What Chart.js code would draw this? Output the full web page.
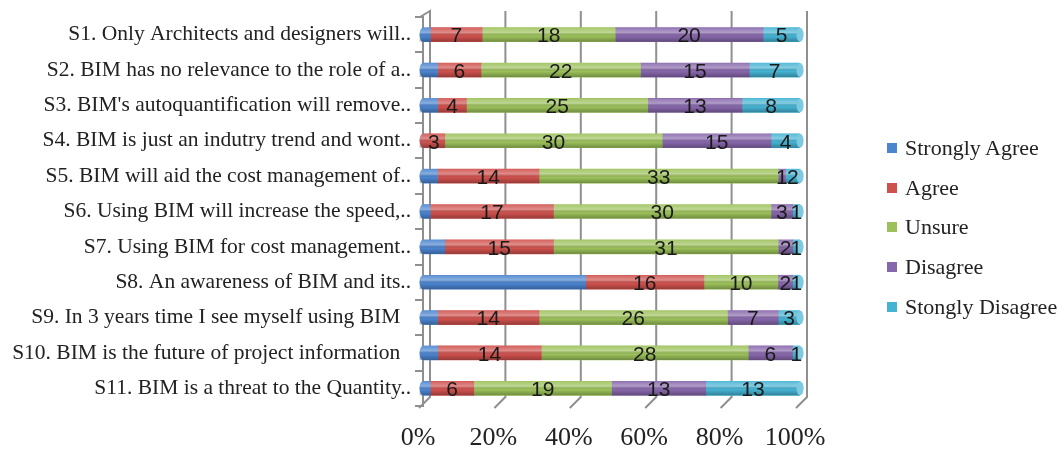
<!DOCTYPE html>
<html>
<head>
<meta charset="utf-8">
<script src="https://cdn.jsdelivr.net/npm/chart.js@4.4.0/dist/chart.umd.min.js"></script>
<style>
  html, body { margin: 0; padding: 0; background: #fff; }
  #wrap { position: relative; width: 1062px; height: 450px; }
  #legend { position: absolute; left: 887px; top: 128px; font-family: "Liberation Serif", serif; font-size: 22px; color: #222; }
  #legend div { height: 39.75px; display: flex; align-items: center; }
  #legend .box { width: 10px; height: 10px; margin-right: 8px; display: inline-block; }
</style>
</head>
<body>
<div id="wrap">
  <canvas id="chart" width="1062" height="450"></canvas>
  <div id="legend"></div>
</div>
<script>
const categories = [
  'S1. Only Architects and designers will..',
  'S2. BIM has no relevance to the role of a..',
  "S3. BIM's autoquantification will remove..",
  'S4. BIM is just an indutry trend and wont..',
  'S5. BIM will aid the cost management of..',
  'S6. Using BIM will increase the speed,..',
  'S7. Using BIM for cost management..',
  'S8. An awareness of BIM and its..',
  'S9. In 3 years time I see myself using BIM  ',
  'S10. BIM is the future of project information  ',
  'S11. BIM is a threat to the Quantity..'
];
const seriesNames = ['Strongly Agree', 'Agree', 'Unsure', 'Disagree', 'Stongly Disagree'];
const stronglyAgree    = [1, 2, 2, 0, 2, 1, 3, 22, 2, 2, 1];
const agree            = [7, 6, 4, 3, 14, 17, 15, 16, 14, 14, 6];
const unsure           = [18, 22, 25, 30, 33, 30, 31, 10, 26, 28, 19];
const disagree         = [20, 15, 13, 15, 1, 3, 2, 2, 7, 6, 13];
const stronglyDisagree = [5, 7, 8, 4, 2, 1, 1, 1, 3, 1, 13];
const tickLabels = ['0%', '20%', '40%', '60%', '80%', '100%'];
const colors = ['#4b84cf', '#cf514d', '#9cc15a', '#8767ab', '#45b3d3'];

const counts = [stronglyAgree, agree, unsure, disagree, stronglyDisagree];
const totals = categories.map((_, i) => counts.reduce((s, arr) => s + arr[i], 0));

// legend
const legend = document.getElementById('legend');
seriesNames.forEach((n, i) => {
  const d = document.createElement('div');
  d.innerHTML = `<span class="box" style="background:${colors[i]}"></span>${n}`;
  legend.appendChild(d);
});

// 3D-ish grid walls
const wallPlugin = {
  id: 'walls',
  beforeDatasetsDraw(chart) {
    const { ctx, chartArea: a, scales: { x } } = chart;
    ctx.save();
    ctx.strokeStyle = '#8f8f8f';
    ctx.lineWidth = 2;
    for (let v = 0; v <= 100; v += 20) {
      const px = x.getPixelForValue(v);
      ctx.beginPath();
      if (v === 0) {
        ctx.moveTo(px - 3, a.top);
        ctx.lineTo(px + 7, a.top - 6);
      } else {
        ctx.moveTo(px + 7, a.top - 6);
      }
      ctx.lineTo(px + 7, a.bottom - 9);
      ctx.lineTo(px - 4, a.bottom + 2);
      ctx.stroke();
    }
    ctx.restore();
  }
};

// cylinder shading, end caps + value labels
const labelPlugin = {
  id: 'segLabels',
  afterDatasetsDraw(chart) {
    const { ctx } = chart;
    const n = chart.data.datasets.length;
    ctx.save();
    chart.data.datasets.forEach((ds, di) => {
      const meta = chart.getDatasetMeta(di);
      meta.data.forEach((el, i) => {
        const x0 = Math.min(el.x, el.base), x1 = Math.max(el.x, el.base);
        const h = el.height, top = el.y - h / 2;
        if (x1 - x0 <= 0) return;
        // rounded left end on first visible segment
        const first = counts.findIndex(arr => arr[i] > 0);
        if (di === first) {
          ctx.fillStyle = colors[di];
          ctx.beginPath();
          ctx.ellipse(x0, el.y, 3.5, h / 2, 0, Math.PI / 2, Math.PI * 1.5);
          ctx.fill();
        }
        const g = ctx.createLinearGradient(0, top, 0, top + h);
        g.addColorStop(0, 'rgba(255,255,255,0.10)');
        g.addColorStop(0.35, 'rgba(255,255,255,0.35)');
        g.addColorStop(0.6, 'rgba(0,0,0,0)');
        g.addColorStop(1, 'rgba(0,0,0,0.28)');
        ctx.fillStyle = g;
        ctx.fillRect(x0 - (di === first ? 3.5 : 0), top, x1 - x0 + (di === first ? 3.5 : 0), h);
        if (di === n - 1) {
          ctx.fillStyle = colors[di];
          ctx.beginPath();
          ctx.ellipse(x1, el.y, 3.5, h / 2, 0, 0, Math.PI * 2);
          ctx.fill();
          ctx.fillStyle = 'rgba(255,255,255,0.3)';
          ctx.fill();
        }
      });
    });
    ctx.font = '21px "Liberation Sans", sans-serif';
    ctx.fillStyle = '#1a1a1a';
    ctx.textAlign = 'center';
    ctx.textBaseline = 'middle';
    chart.data.datasets.forEach((ds, di) => {
      if (di === 0) return;
      const meta = chart.getDatasetMeta(di);
      meta.data.forEach((el, i) => {
        const v = counts[di][i];
        if (!v) return;
        ctx.fillText(String(v), (el.x + el.base) / 2, el.y + 2);
      });
    });
    ctx.restore();
  }
};

new Chart(document.getElementById('chart'), {
  type: 'bar',
  data: {
    labels: categories,
    datasets: seriesNames.map((n, si) => ({
      label: n,
      data: counts[si].map((v, i) => v / totals[i] * 100),
      backgroundColor: colors[si],
      borderWidth: 0,
      barThickness: 14
    }))
  },
  options: {
    indexAxis: 'y',
    responsive: false,
    animation: false,
    layout: { padding: { top: 17, right: 262, bottom: 0, left: 0 } },
    plugins: { legend: { display: false }, tooltip: { enabled: false } },
    scales: {
      x: {
        stacked: true,
        min: 0, max: 100,
        afterFit: s => { s.height = 44; },
        grid: { display: false },
        border: { display: false },
        ticks: {
          stepSize: 20,
          padding: 9,
          labelOffset: -5,
          color: '#222',
          font: { family: '"Liberation Serif", serif', size: 26 },
          callback: (v, i) => tickLabels[i]
        }
      },
      y: {
        stacked: true,
        afterFit: s => { s.width = 423; },
        grid: { drawOnChartArea: false, drawTicks: true, tickLength: 8, color: '#8f8f8f', lineWidth: 2, offset: true },
        border: { display: true, color: '#8f8f8f', width: 2 },
        ticks: {
          padding: 4,
          color: '#222',
          font: { family: '"Liberation Serif", serif', size: 21.5 }
        }
      }
    }
  },
  plugins: [wallPlugin, labelPlugin]
});
</script>
</body>
</html>
